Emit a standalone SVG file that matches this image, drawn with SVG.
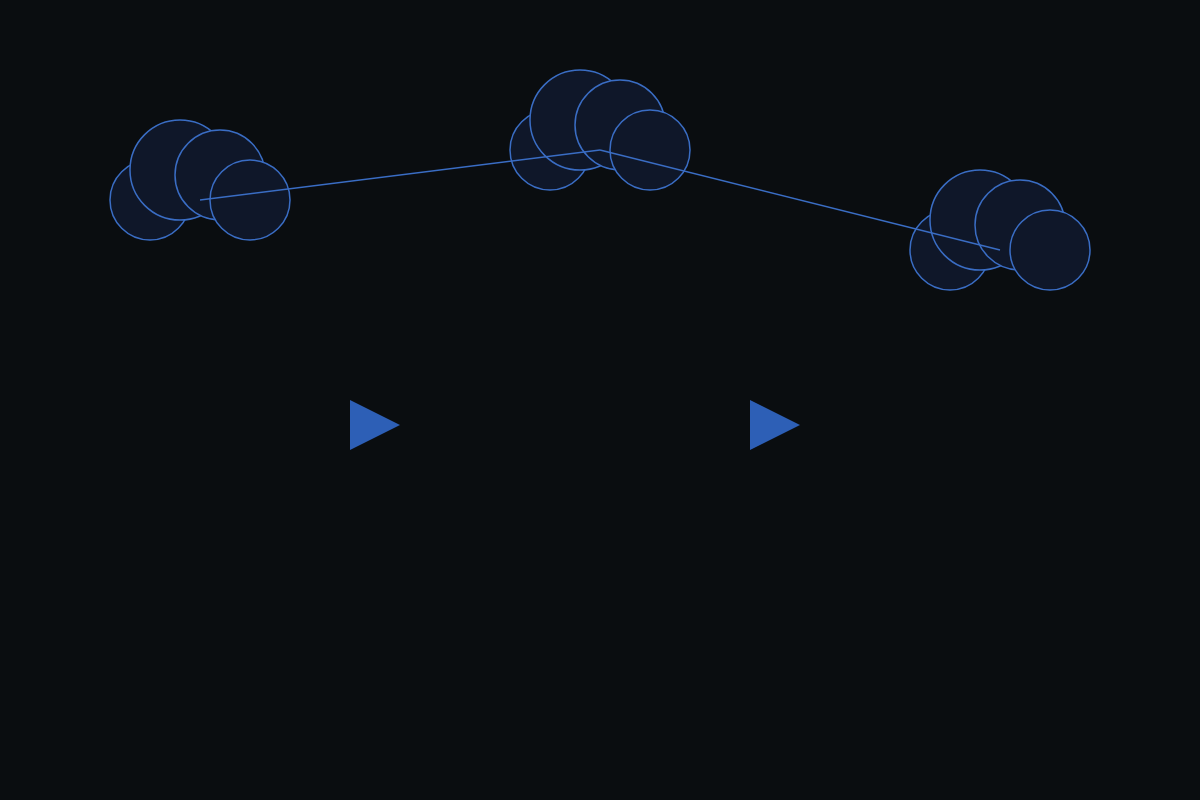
<svg xmlns="http://www.w3.org/2000/svg" width="1200" height="800" viewBox="0 0 1200 800">
  <defs>
    <style>
      .puff { fill: #0f1729; stroke: #3a6dc4; stroke-width: 1.5; }
      .link { fill: none; stroke: #3a6dc4; stroke-width: 1.5; }
      .play { fill: #2d5fb6; }
    </style>
  </defs>
  <rect x="0" y="0" width="1200" height="800" fill="#0a0d10"/>
  <g id="cloud-1">
    <circle class="puff" cx="150" cy="200" r="40"/>
    <circle class="puff" cx="180" cy="170" r="50"/>
    <circle class="puff" cx="220" cy="175" r="45"/>
    <circle class="puff" cx="250" cy="200" r="40"/>
  </g>
  <g id="cloud-2">
    <circle class="puff" cx="550" cy="150" r="40"/>
    <circle class="puff" cx="580" cy="120" r="50"/>
    <circle class="puff" cx="620" cy="125" r="45"/>
    <circle class="puff" cx="650" cy="150" r="40"/>
  </g>
  <g id="cloud-3">
    <circle class="puff" cx="950" cy="250" r="40"/>
    <circle class="puff" cx="980" cy="220" r="50"/>
    <circle class="puff" cx="1020" cy="225" r="45"/>
    <circle class="puff" cx="1050" cy="250" r="40"/>
  </g>
  <g id="connectors">
    <line class="link" x1="200" y1="200" x2="600" y2="150"/>
    <line class="link" x1="600" y1="150" x2="1000" y2="250"/>
  </g>
  <g id="arrow-1">
    <polygon class="play" points="350,400 400,425 350,450"/>
  </g>
  <g id="arrow-2">
    <polygon class="play" points="750,400 800,425 750,450"/>
  </g>
</svg>
